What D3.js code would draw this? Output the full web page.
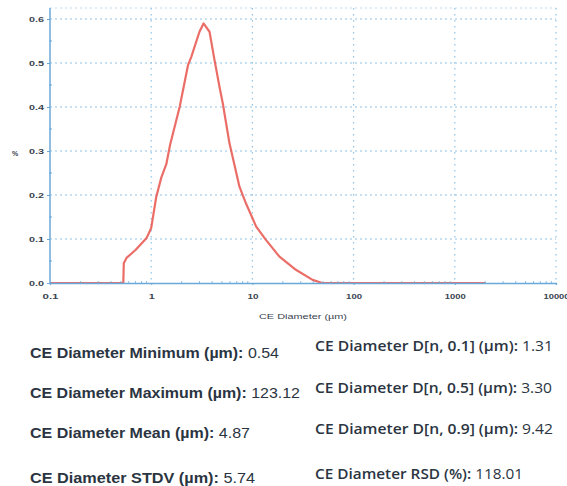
<!DOCTYPE html>
<html><head><meta charset="utf-8">
<script src="https://cdn.jsdelivr.net/npm/d3@7"></script>
<style>
html,body{margin:0;padding:0;background:#fff;overflow:hidden}
svg{display:block}
</style></head>
<body>
<svg id="chart" width="567" height="486"></svg>
<script>
// Particle size distribution: CE diameter (µm) vs number %
const diameters = [0.1, 0.2, 0.3, 0.4, 0.5, 0.53, 0.536, 0.57, 0.7, 0.9, 1.0, 1.12, 1.26, 1.41, 1.54, 1.91, 2.31, 2.49, 3.0, 3.29, 3.77, 4.22, 4.73, 5.1, 5.93, 7.45, 8.67, 10.9, 13.6, 18.5, 26.9, 39.3, 49, 100, 500, 1000, 2000];
const percents  = [0, 0, 0, 0, 0, 0, 0.045, 0.057, 0.075, 0.102, 0.125, 0.195, 0.24, 0.27, 0.315, 0.40, 0.495, 0.514, 0.571, 0.59, 0.571, 0.507, 0.446, 0.408, 0.318, 0.219, 0.18, 0.128, 0.098, 0.06, 0.03, 0.007, 0, 0, 0, 0, 0];
const xTicks = [0.1, 1, 10, 100, 1000, 10000];
const xTickLabels = ["0.1", "1", "10", "100", "1000", "10000"];
const yTicks = [0, 0.1, 0.2, 0.3, 0.4, 0.5, 0.6];
const yTickLabels = ["0.0", "0.1", "0.2", "0.3", "0.4", "0.5", "0.6"];
const statsLeft = [
  ["CE Diameter Minimum (µm): ", "0.54"],
  ["CE Diameter Maximum (µm): ", "123.12"],
  ["CE Diameter Mean (µm): ", "4.87"],
  ["CE Diameter STDV (µm): ", "5.74"]
];
const statsRight = [
  ["CE Diameter D[n, 0.1] (µm): ", "1.31"],
  ["CE Diameter D[n, 0.5] (µm): ", "3.30"],
  ["CE Diameter D[n, 0.9] (µm): ", "9.42"],
  ["CE Diameter RSD (%): ", "118.01"]
];

const svg = d3.select("#chart");
const x = d3.scaleLog().domain([0.1, 10000]).range([50, 556]);
const y = d3.scaleLinear().domain([0, 0.6]).range([283, 19]);
const yTop = y(0.625);
const gridColor = "#8fc3e6";
const axisColor = "#6aa8d8";
const textColor = "#3a4450";
const font = "Liberation Sans, Arial, sans-serif";

// horizontal grid
svg.append("g").selectAll("line").data(yTicks.filter(d => d > 0)).join("line")
  .attr("x1", x(0.1)).attr("x2", x(10000))
  .attr("y1", d => y(d)).attr("y2", d => y(d))
  .attr("stroke", gridColor).attr("stroke-width", 1.2).attr("stroke-dasharray", "2,3");
// top border
svg.append("line").attr("x1", x(0.1)).attr("x2", x(10000)).attr("y1", yTop).attr("y2", yTop)
  .attr("stroke", gridColor).attr("stroke-width", 1).attr("stroke-dasharray", "2,3").attr("opacity", 0.6);
// vertical grid
svg.append("g").selectAll("line").data(xTicks.slice(1)).join("line")
  .attr("x1", d => x(d)).attr("x2", d => x(d))
  .attr("y1", yTop).attr("y2", y(0))
  .attr("stroke", gridColor).attr("stroke-width", 1.2).attr("stroke-dasharray", "1.5,4.5");

// curve
const line = d3.line().x((d, i) => x(diameters[i])).y(d => y(d));
svg.append("path").datum(percents).attr("d", line)
  .attr("fill", "none").attr("stroke", "#e8544c").attr("stroke-width", 2.2)
  .attr("stroke-linejoin", "round").attr("opacity", 0.85);

// y axis
const yAxis = d3.axisLeft(y).tickValues(yTicks).tickFormat((d, i) => yTickLabels[i]).tickSize(3).tickPadding(3);
const gy = svg.append("g").attr("transform", `translate(${x(0.1)},0)`).call(yAxis);
gy.select(".domain").attr("stroke", axisColor).attr("stroke-width", 1.5).attr("d", `M0,${yTop}V${y(0)}`);
gy.selectAll(".tick line").attr("stroke", axisColor);
gy.selectAll("text").attr("fill", textColor).attr("font-family", font)
  .attr("font-size", 8).attr("font-weight", "bold")
  .attr("textLength", 15).attr("lengthAdjust", "spacingAndGlyphs");
// y minor ticks
svg.append("g").selectAll("line").data(d3.range(0.05, 0.6, 0.1)).join("line")
  .attr("x1", x(0.1) - 1).attr("x2", x(0.1) + 2).attr("y1", d => y(d)).attr("y2", d => y(d))
  .attr("stroke", axisColor);

// x axis
const xAxis = d3.axisBottom(x).tickValues(xTicks).tickFormat((d, i) => xTickLabels[i]).tickSize(2).tickPadding(8);
const gx = svg.append("g").attr("transform", `translate(0,${y(0)})`).call(xAxis);
gx.select(".domain").attr("stroke", axisColor).attr("stroke-width", 1.3);
gx.selectAll(".tick line").attr("stroke", axisColor);
gx.selectAll("text").attr("fill", textColor).attr("font-family", font)
  .attr("font-size", 8).attr("font-weight", "bold")
  .attr("textLength", (d, i) => [16, 6, 11, 16, 21, 26][i]).attr("lengthAdjust", "spacingAndGlyphs");
// x minor ticks
const minor = [];
for (let dec = 0.1; dec < 10000; dec *= 10) for (let k = 2; k <= 9; k++) minor.push(dec * k);
svg.append("g").selectAll("line").data(minor).join("line")
  .attr("x1", d => x(d)).attr("x2", d => x(d)).attr("y1", y(0) - 2).attr("y2", y(0) + 1)
  .attr("stroke", axisColor).attr("opacity", 0.7);

// axis titles
svg.append("text").attr("x", 303).attr("y", 319).attr("text-anchor", "middle")
  .attr("font-family", font).attr("font-size", 7.5).attr("fill", textColor)
  .attr("textLength", 88).attr("lengthAdjust", "spacingAndGlyphs")
  .text("CE Diameter (µm)");
svg.append("text").attr("x", 15).attr("y", 156).attr("text-anchor", "middle")
  .attr("font-family", font).attr("font-size", 7).attr("font-weight", "bold").attr("fill", textColor)
  .text("%");

// stats text
const leftY = [358, 398, 438, 483];
const leftW = [249, 270, 220, 225];
const rightY = [351, 393, 434, 479];
const rightW = [238, 237, 238, 208];
statsLeft.forEach((s, i) => {
  const t = svg.append("text").attr("x", 30).attr("y", leftY[i])
    .attr("font-family", font).attr("font-size", 14).attr("fill", "#2b3542")
    .attr("textLength", leftW[i]).attr("lengthAdjust", "spacingAndGlyphs");
  t.append("tspan").attr("font-weight", "bold").text(s[0]);
  t.append("tspan").text(s[1]);
});
statsRight.forEach((s, i) => {
  const t = svg.append("text").attr("x", 315).attr("y", rightY[i])
    .attr("font-family", "Open Sans, Noto Sans, sans-serif").attr("font-size", 14.5).attr("font-weight", 600).attr("fill", "#2b3542")
    .attr("textLength", rightW[i]).attr("lengthAdjust", "spacingAndGlyphs");
  t.append("tspan").text(s[0]);
  t.append("tspan").attr("font-weight", 400).text(s[1]);
});
</script>
</body></html>
